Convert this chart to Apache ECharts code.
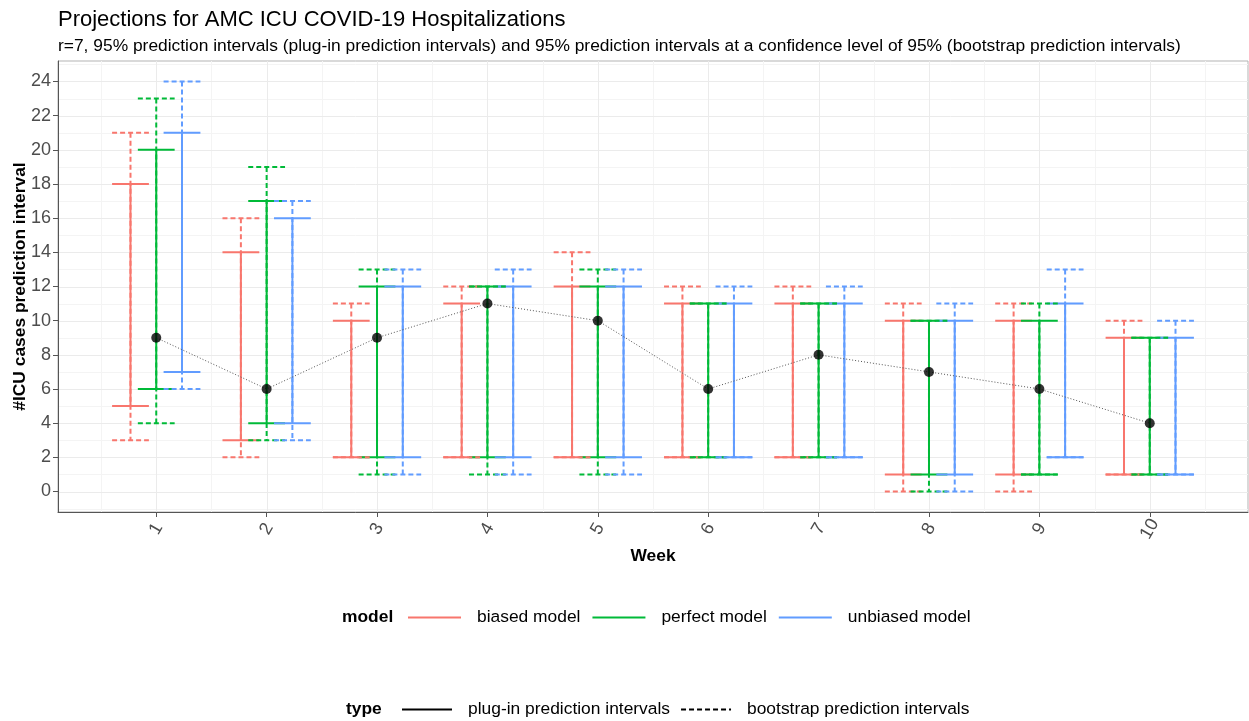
<!DOCTYPE html>
<html><head><meta charset="utf-8">
<script src="https://cdn.jsdelivr.net/npm/echarts@6/dist/echarts.min.js"></script>
<style>html,body{margin:0;padding:0;background:#fff}#c{width:1249px;height:721px}</style>
</head><body><div id="c"></div>
<script>
// ---------- data ----------
const weeks = [1, 2, 3, 4, 5, 6, 7, 8, 9, 10];
const observed = [9, 6, 9, 11, 10, 6, 8, 7, 6, 4];

const biasedPlugLow  = [5, 3, 2, 2, 2, 2, 2, 1, 1, 1];
const biasedPlugHigh = [18, 14, 10, 11, 12, 11, 11, 10, 10, 9];
const biasedBootLow  = [3, 2, 2, 2, 2, 2, 2, 0, 0, 1];
const biasedBootHigh = [21, 16, 11, 12, 14, 12, 12, 11, 11, 10];

const perfectPlugLow  = [6, 4, 2, 2, 2, 2, 2, 1, 1, 1];
const perfectPlugHigh = [20, 17, 12, 12, 12, 11, 11, 10, 10, 9];
const perfectBootLow  = [4, 3, 1, 1, 1, 2, 2, 0, 1, 1];
const perfectBootHigh = [23, 19, 13, 12, 13, 11, 11, 10, 11, 9];

const unbiasedPlugLow  = [7, 4, 2, 2, 2, 2, 2, 1, 2, 1];
const unbiasedPlugHigh = [21, 16, 12, 12, 12, 11, 11, 10, 11, 9];
const unbiasedBootLow  = [6, 3, 1, 1, 1, 2, 2, 0, 2, 1];
const unbiasedBootHigh = [24, 17, 13, 13, 13, 12, 12, 11, 13, 10];

const models = ['biased model', 'perfect model', 'unbiased model'];
const types = ['plug-in prediction intervals', 'bootstrap prediction intervals'];
const xTickValues = [1, 2, 3, 4, 5, 6, 7, 8, 9, 10];
const xMinorGrid = [0.5, 1.5, 2.5, 3.5, 4.5, 5.5, 6.5, 7.5, 8.5, 9.5, 10.5];
const yTickValues = [0, 2, 4, 6, 8, 10, 12, 14, 16, 18, 20, 22, 24];
const yMinorGrid = [-1, 1, 3, 5, 7, 9, 11, 13, 15, 17, 19, 21, 23, 25];

// ---------- styling ----------
const FONT = 'Liberation Sans, Arial, sans-serif';
const modelColors = ['#F8766D', '#00BA38', '#619CFF'];
const dodge = [-0.2333, 0, 0.2333];
const CAP_HALF = 0.1667;
const DASH = [5, 3];

const intervals = [
  [biasedPlugLow, biasedPlugHigh, biasedBootLow, biasedBootHigh],
  [perfectPlugLow, perfectPlugHigh, perfectBootLow, perfectBootHigh],
  [unbiasedPlugLow, unbiasedPlugHigh, unbiasedBootLow, unbiasedBootHigh]
];

function errorbarRender(offset, color, dash) {
  return function (params, api) {
    const x = api.value(0) + offset;
    const lo = api.coord([x, api.value(1)]);
    const hi = api.coord([x, api.value(2)]);
    const hw = api.size([CAP_HALF, 0])[0];
    const st = () => ({ stroke: color, lineWidth: 2, lineDash: dash, fill: null });
    return {
      type: 'group',
      children: [
        { type: 'line', shape: { x1: hi[0], y1: hi[1], x2: lo[0], y2: lo[1] }, style: st() },
        { type: 'line', shape: { x1: hi[0] - hw, y1: hi[1], x2: hi[0] + hw, y2: hi[1] }, style: st() },
        { type: 'line', shape: { x1: lo[0] - hw, y1: lo[1], x2: lo[0] + hw, y2: lo[1] }, style: st() }
      ]
    };
  };
}

function vGridRender(color) {
  return function (params, api) {
    const p = api.coord([api.value(0), 0]);
    const cs = params.coordSys;
    const x = Math.round(p[0]) + 0.5;
    return { type: 'line', shape: { x1: x, y1: cs.y, x2: x, y2: cs.y + cs.height }, style: { stroke: color, lineWidth: 1 } };
  };
}
function hGridRender(color) {
  return function (params, api) {
    const p = api.coord([1, api.value(1)]);
    const cs = params.coordSys;
    const y = Math.round(p[1]) + 0.5;
    return { type: 'line', shape: { x1: cs.x, y1: y, x2: cs.x + cs.width, y2: y }, style: { stroke: color, lineWidth: 1 } };
  };
}

const series = [];
// grid lines
series.push({ type: 'custom', name: 'gx-minor', z: 0, silent: true, renderItem: vGridRender('#F4F4F4'), data: xMinorGrid.map(v => [v, 0]) });
series.push({ type: 'custom', name: 'gy-minor', z: 0, silent: true, renderItem: hGridRender('#F4F4F4'), data: yMinorGrid.map(v => [1, v]) });
series.push({ type: 'custom', name: 'gx-major', z: 0, silent: true, renderItem: vGridRender('#EBEBEB'), data: xTickValues.map(v => [v, 0]) });
series.push({ type: 'custom', name: 'gy-major', z: 0, silent: true, renderItem: hGridRender('#EBEBEB'), data: yTickValues.map(v => [1, v]) });

// plug-in (solid) first, then bootstrap (dashed)
[0, 1].forEach(t => {
  models.forEach((m, i) => {
    const low = intervals[i][t * 2];
    const high = intervals[i][t * 2 + 1];
    series.push({
      type: 'custom',
      name: m + ' ' + types[t],
      z: 2,
      silent: true,
      renderItem: errorbarRender(dodge[i], modelColors[i], t === 0 ? null : DASH),
      encode: { x: 0, y: [1, 2] },
      data: weeks.map((w, k) => [w, low[k], high[k]])
    });
  });
});

// observed dotted line + points
series.push({
  type: 'line', name: 'observed-line', z: 3, silent: true, symbol: 'none',
  lineStyle: { color: '#555', width: 1, type: [1, 2] },
  data: weeks.map((w, k) => [w, observed[k]])
});
series.push({
  type: 'scatter', name: 'observed', z: 4, silent: true, symbolSize: 10,
  itemStyle: { color: '#000' },
  data: weeks.map((w, k) => [w, observed[k]])
});

// dummy series for legends
models.forEach((m, i) => {
  series.push({ type: 'line', name: m, data: [], symbol: 'none', color: modelColors[i], lineStyle: { color: modelColors[i], width: 2 } });
});
series.push({ type: 'line', name: types[0], data: [], symbol: 'none', color: '#000', lineStyle: { color: '#000', width: 2 } });
series.push({ type: 'line', name: types[1], data: [], symbol: 'none', color: '#000', lineStyle: { color: '#000', width: 2, type: DASH } });

const option = {
  animation: false,
  backgroundColor: '#ffffff',
  textStyle: { fontFamily: FONT },
  title: [
    { text: 'Projections for AMC ICU COVID-19 Hospitalizations', left: 58, top: 9, padding: 0,
      textStyle: { fontSize: 22, fontWeight: 'normal', color: '#000', fontFamily: FONT } },
    { text: 'r=7, 95% prediction intervals (plug-in prediction intervals) and 95% prediction intervals at a confidence level of 95% (bootstrap prediction intervals)',
      left: 58, top: 38, padding: 0,
      textStyle: { fontSize: 17.4, fontWeight: 'normal', color: '#000', fontFamily: FONT } },
    { text: 'model', left: 342, top: 609, padding: 0,
      textStyle: { fontSize: 17.4, fontWeight: 'bold', color: '#000', fontFamily: FONT } },
    { text: 'type', left: 346, top: 701, padding: 0,
      textStyle: { fontSize: 17.4, fontWeight: 'bold', color: '#000', fontFamily: FONT } }
  ],
  legend: [
    { data: models, left: 407, top: 609, orient: 'horizontal', padding: 0,
      itemWidth: 53, itemHeight: 16, itemGap: 11, selectedMode: false,
      itemStyle: { opacity: 0 },
      textStyle: { fontSize: 17.4, color: '#000', fontFamily: FONT, padding: [0, 0, 0, 11] } },
    { data: types, left: 401, top: 701, orient: 'horizontal', padding: 0,
      itemWidth: 50, itemHeight: 16, itemGap: 10, selectedMode: false,
      itemStyle: { opacity: 0 },
      textStyle: { fontSize: 17.4, color: '#000', fontFamily: FONT, padding: [0, 0, 0, 11] } }
  ],
  grid: { left: 58, right: 1, top: 61, bottom: 209, show: true, borderColor: '#B3B3B3', borderWidth: 1,
    containLabel: false, outerBoundsMode: 'none' },
  xAxis: {
    type: 'value', min: 0.11, max: 10.89,
    name: 'Week', nameLocation: 'middle', nameGap: 36, nameMoveOverlap: false,
    nameTextStyle: { fontSize: 17.4, fontWeight: 'bold', color: '#000', fontFamily: FONT },
    axisLine: { show: true, onZero: false, lineStyle: { color: '#555', width: 1 } },
    axisTick: { show: true, customValues: xTickValues, length: 5, lineStyle: { color: '#555' } },
    axisLabel: { customValues: xTickValues, rotate: 60, fontSize: 18, color: '#4D4D4D', margin: 17,
      align: 'center', verticalAlign: 'middle', fontFamily: FONT, hideOverlap: false },
    splitLine: { show: false }
  },
  yAxis: {
    type: 'value', min: -1.2, max: 25.2,
    name: '#ICU cases prediction interval', nameLocation: 'middle', nameGap: 29, nameMoveOverlap: false,
    nameTextStyle: { fontSize: 17.4, fontWeight: 'bold', color: '#000', fontFamily: FONT },
    axisLine: { show: true, onZero: false, lineStyle: { color: '#555', width: 1 } },
    axisTick: { show: true, customValues: yTickValues, length: 5, lineStyle: { color: '#555' } },
    axisLabel: { customValues: yTickValues, fontSize: 18, color: '#4D4D4D', margin: 7, fontFamily: FONT },
    splitLine: { show: false }
  },
  series: series
};

const chart = echarts.init(document.getElementById('c'), null, { renderer: 'canvas' });
chart.setOption(option);
</script>
</body></html>
